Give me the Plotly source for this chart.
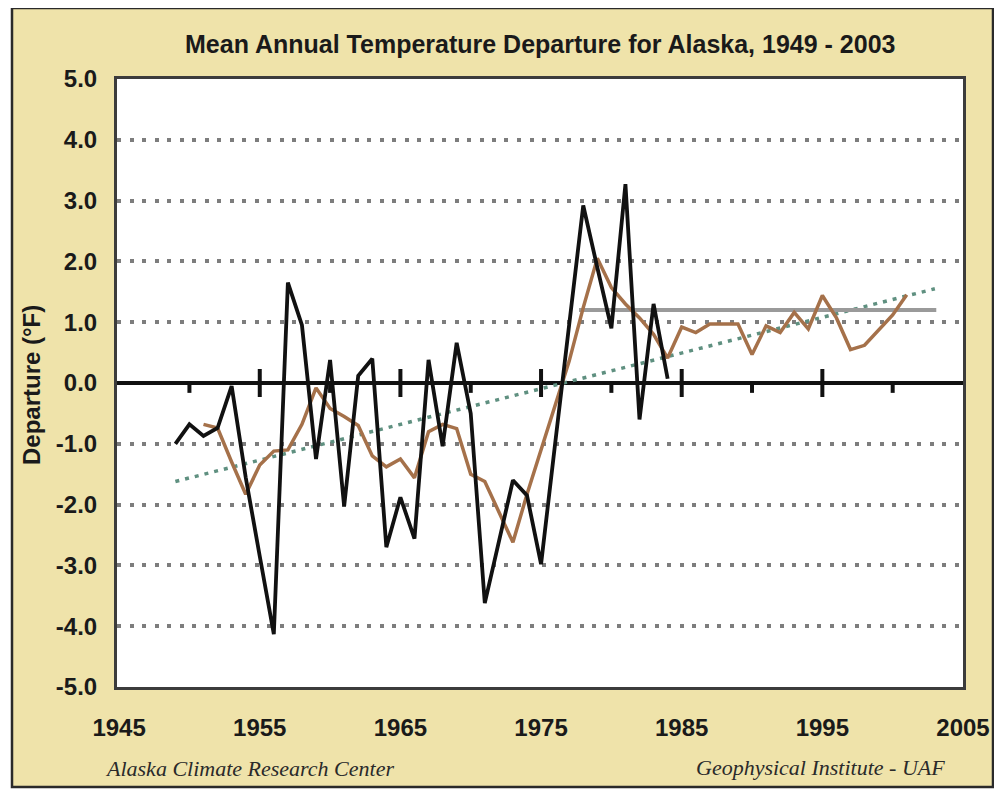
import plotly.graph_objects as go

# ---- data ----
black_years = list(range(1949, 1985))
black_values = [-1.0, -0.68, -0.87, -0.74, -0.05, -1.55, -2.85, -4.13, 1.65, 0.95,
                -1.25, 0.38, -2.03, 0.12, 0.40, -2.70, -1.88, -2.56, 0.38, -1.04,
                0.66, -0.50, -3.62, -2.60, -1.60, -1.85, -2.98, -1.00, 1.00, 2.92,
                1.90, 0.90, 3.27, -0.60, 1.30, 0.07]

mean_years = list(range(1951, 2002))
mean_values = [-0.68, -0.74, -1.30, -1.83, -1.35, -1.12, -1.10, -0.68, -0.08, -0.42,
               -0.55, -0.70, -1.20, -1.38, -1.25, -1.56, -0.80, -0.68, -0.75, -1.50,
               -1.62, -2.12, -2.62, -1.83, -1.10, -0.36, 0.36, 1.24, 2.05, 1.57,
               1.30, 1.07, 0.80, 0.41, 0.92, 0.83, 0.97, 0.97, 0.97, 0.47,
               0.94, 0.83, 1.16, 0.89, 1.44, 1.07, 0.55, 0.62, 0.88, 1.12,
               1.45]

level_years = [1977.7, 2003.1]
level_values = [1.2, 1.2]

trend_years = [1949, 2003]
trend_values = [-1.62, 1.55]

major_tick_years = [1955, 1965, 1975, 1985, 1995]
minor_tick_years = [1950, 1960, 1970, 1980, 1990, 2000]

y_ticks = [-5, -4, -3, -2, -1, 0, 1, 2, 3, 4, 5]
y_tick_labels = ["-5.0", "-4.0", "-3.0", "-2.0", "-1.0", "0.0", "1.0", "2.0", "3.0", "4.0", "5.0"]
x_ticks = [1945, 1955, 1965, 1975, 1985, 1995, 2005]
x_tick_labels = ["1945", "1955", "1965", "1975", "1985", "1995", "2005"]

title_text = "Mean Annual Temperature Departure for Alaska, 1949 - 2003"
y_title = "Departure (°F)"
footer_left = "Alaska Climate Research Center"
footer_right = "Geophysical Institute - UAF"

# ---- styling ----
BEIGE = "#EFE3AA"
OFF = 8  # page body margin
W, H = 1002, 790
# plot area in screen pixels: x 117..963, y 79..687
L = 117 - OFF
T = 79 - OFF
R = W - (963 - OFF)
B = H - (687 - OFF)
pw, ph = W - L - R, H - T - B

def px_x(s):
    return (s - OFF - L) / pw

def px_y(s):
    return (H - B - (s - OFF)) / ph

fig = go.Figure()

fig.add_trace(go.Scatter(x=trend_years, y=trend_values, mode="lines",
                         line=dict(color="#5f9080", width=3.5, dash="4px,6px"),
                         hoverinfo="skip", showlegend=False))
fig.add_trace(go.Scatter(x=level_years, y=level_values, mode="lines",
                         line=dict(color="#9a9a9a", width=4),
                         hoverinfo="skip", showlegend=False))
fig.add_trace(go.Scatter(x=mean_years, y=mean_values, mode="lines",
                         line=dict(color="#a5714a", width=3.5),
                         showlegend=False))
fig.add_trace(go.Scatter(x=black_years, y=black_values, mode="lines",
                         line=dict(color="#111111", width=3.8),
                         showlegend=False))
fig.add_trace(go.Scatter(x=major_tick_years, y=[0] * len(major_tick_years), mode="markers",
                         marker=dict(symbol="line-ns", size=20, line=dict(color="#111111", width=4)),
                         hoverinfo="skip", showlegend=False))
fig.add_trace(go.Scatter(x=minor_tick_years, y=[-0.07] * len(minor_tick_years), mode="markers",
                         marker=dict(symbol="line-ns", size=8, line=dict(color="#111111", width=4)),
                         hoverinfo="skip", showlegend=False))

fig.update_xaxes(range=[1944.85, 2005.0], tickvals=x_ticks, ticktext=x_tick_labels,
                 showgrid=False, zeroline=False, ticks="",
                 showline=True, mirror=True, linecolor="#3c3c3c", linewidth=3,
                 ticklabelstandoff=17,
                 tickfont=dict(family="Liberation Sans, Arial", size=24, color="#1a1a1a", weight="bold"))
fig.update_yaxes(range=[-5, 5], tickvals=y_ticks, ticktext=y_tick_labels,
                 showgrid=True, gridcolor="#7d7d7d", gridwidth=3.5, griddash="4px,8.5px",
                 zeroline=True, zerolinecolor="#111111", zerolinewidth=4,
                 ticks="", showline=True, mirror=True, linecolor="#3c3c3c", linewidth=3,
                 ticklabelstandoff=12,
                 tickfont=dict(family="Liberation Sans, Arial", size=24, color="#1a1a1a", weight="bold"))

annotations = [
    dict(text=title_text, xref="paper", yref="paper", x=0.5, y=px_y(44),
         xanchor="center", yanchor="middle", showarrow=False,
         font=dict(family="Liberation Sans, Arial", size=25, color="#1a1a1a", weight="bold")),
    dict(text=y_title, xref="paper", yref="paper", x=px_x(31), y=px_y(385),
         xanchor="center", yanchor="middle", textangle=-90, showarrow=False,
         font=dict(family="Liberation Sans, Arial", size=24, color="#1a1a1a", weight="bold")),
    dict(text=footer_left, xref="paper", yref="paper", x=px_x(103), y=px_y(768),
         xanchor="left", yanchor="middle", showarrow=False,
         font=dict(family="Liberation Serif, Times New Roman", size=22, color="#2a2a2a", style="italic")),
    dict(text=footer_right, xref="paper", yref="paper", x=px_x(947), y=px_y(767),
         xanchor="right", yanchor="middle", showarrow=False,
         font=dict(family="Liberation Serif, Times New Roman", size=22, color="#2a2a2a", style="italic")),
]

# frame in screen pixels; white outside it
FL, FR, FT, FB = 12, 993, 8, 787
shapes = [
    dict(type="rect", xref="paper", yref="paper", x0=px_x(FR), x1=px_x(W + 20), y0=px_y(H + 20), y1=px_y(-20),
         fillcolor="white", line=dict(width=0), layer="below"),
    dict(type="rect", xref="paper", yref="paper", x0=px_x(-20), x1=px_x(W + 20), y0=px_y(H + 20), y1=px_y(FB),
         fillcolor="white", line=dict(width=0), layer="below"),
    dict(type="rect", xref="paper", yref="paper", x0=px_x(-20), x1=px_x(FL), y0=px_y(H + 20), y1=px_y(-20),
         fillcolor="white", line=dict(width=0), layer="below"),
    dict(type="rect", xref="paper", yref="paper", x0=px_x(FL), x1=px_x(FR), y0=px_y(FB), y1=px_y(FT),
         fillcolor="rgba(0,0,0,0)", line=dict(color="#2a2a2a", width=2.5), layer="below"),
]

fig.update_layout(width=W, height=H, margin=dict(l=L, r=R, t=T, b=B),
                  paper_bgcolor=BEIGE, plot_bgcolor="white",
                  annotations=annotations, shapes=shapes, showlegend=False)

fig.write_html("out.html")
